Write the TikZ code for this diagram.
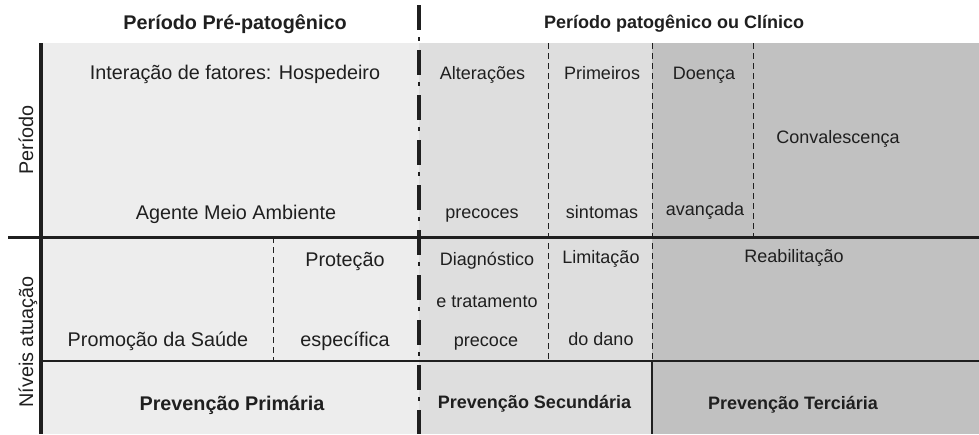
\documentclass[tikz,border=0pt]{standalone}
\usepackage{fontspec}
\setmainfont{Liberation Sans}
\definecolor{prefill}{gray}{0.93}
\definecolor{secfill}{gray}{0.87}
\definecolor{terfill}{gray}{0.755}
\definecolor{ink}{gray}{0.12}
\begin{document}
\begin{tikzpicture}[x=1pt,y=-1pt,
  bigtxt/.style={anchor=base,inner sep=0pt,text=ink,font=\fontsize{19.8}{22}\selectfont},
  smalltxt/.style={anchor=base,inner sep=0pt,text=ink,font=\fontsize{18}{20}\selectfont},
  celldash/.style={ink,line width=1pt,dash pattern=on 6pt off 4pt},
  phasedash/.style={ink,line width=4pt,dash pattern=on 25pt off 20pt},
  phasedot/.style={ink,line width=2.5pt,dash pattern=on 4pt off 41pt}]
\useasboundingbox (0,0) rectangle (979,434);
% fundos
\fill[prefill] (41,43) rectangle (419,434);
\fill[secfill] (419,43) rectangle (652,434);
\fill[terfill] (652,43) rectangle (979,434);
% linhas
\draw[celldash] (548,43)--(548,361);
\draw[celldash] (652,43)--(652,361);
\draw[celldash] (753,43)--(753,237);
\draw[celldash] (273,237)--(273,361);
\draw[ink,line width=1.3pt] (652,361)--(652,434);
\draw[ink,line width=1.3pt] (41,361)--(979,361);
\draw[ink,line width=3pt] (8,237)--(979,237);
\draw[ink,line width=4pt] (41,43)--(41,434);
\draw[phasedash] (419,5)--(419,434);
\draw[phasedot] (419,37)--(419,434);
% titulos
\node (prehead) at (235,29)[bigtxt]{\bfseries Período Pré-patogênico};
\node (pathead) at (674,28.5)[smalltxt]{\bfseries Período patogênico ou Clínico};
\node (rowper) at (33,140)[bigtxt,rotate=90]{Período};
\node (rowniv) at (33,342)[bigtxt,rotate=90]{Níveis atuação};
% periodo
\node (inter) at (235,79)[bigtxt]{Interação de fatores: Hospedeiro};
\node (agente) at (236,219)[bigtxt]{Agente Meio Ambiente};
\node (alter) at (482.5,79)[smalltxt]{Alterações};
\node (precs) at (482,218.5)[smalltxt]{precoces};
\node (prim) at (602,79)[smalltxt]{Primeiros};
\node (sint) at (602,218.5)[smalltxt]{sintomas};
\node (doenca) at (704,79)[smalltxt]{Doença};
\node (avanc) at (705,215)[smalltxt]{avançada};
\node (conv) at (838,143)[smalltxt]{Convalescença};
% niveis
\node (promo) at (158,346)[bigtxt]{Promoção da Saúde};
\node (prot) at (345,266)[bigtxt]{Proteção};
\node (espec) at (345,346)[bigtxt]{específica};
\node (diag) at (487,265.7)[smalltxt]{Diagnóstico};
\node (trat) at (487,307)[smalltxt]{e tratamento};
\node (prec) at (486,346)[smalltxt]{precoce};
\node (limit) at (601,263)[smalltxt]{Limitação};
\node (dano) at (601,345)[smalltxt]{do dano};
\node (reab) at (794,262)[smalltxt]{Reabilitação};
% prevencao
\node (prevp) at (232,410)[bigtxt]{\bfseries Prevenção Primária};
\node (prevs) at (534.5,408)[smalltxt]{\bfseries Prevenção Secundária};
\node (prevt) at (793,409)[smalltxt]{\bfseries Prevenção Terciária};
\end{tikzpicture}
\end{document}
